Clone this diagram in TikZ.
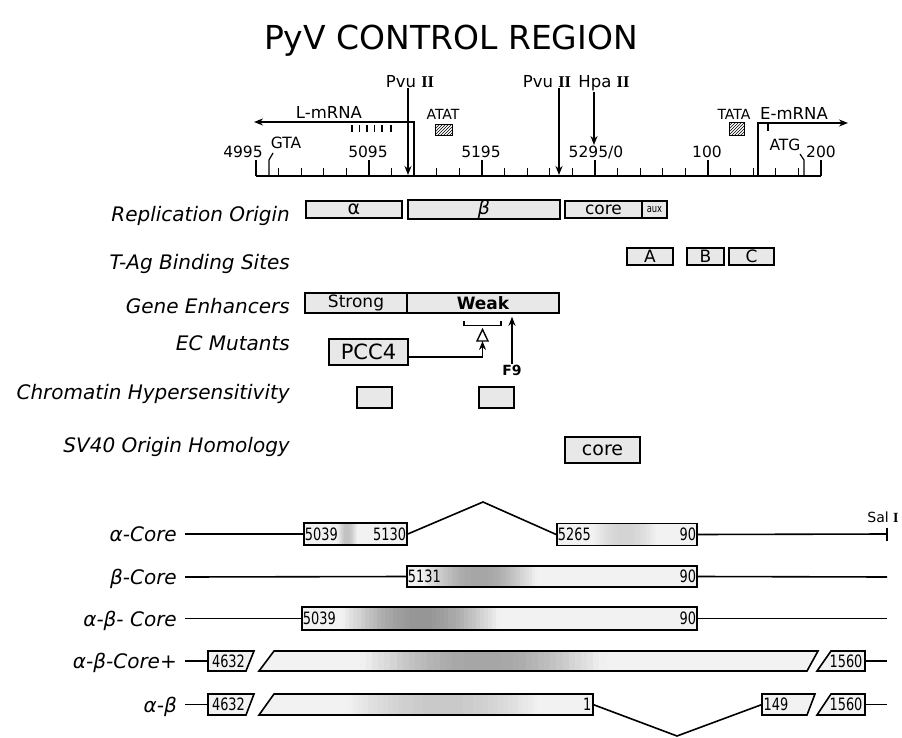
\documentclass[tikz,border=0pt]{standalone}
\usepackage{fontspec}
\setmainfont{DejaVu Sans}
\setsansfont{DejaVu Sans}
\newfontfamily\condfont{DejaVu Sans}[FakeStretch=0.76]
\newfontfamily\romfont{Liberation Serif}
\usetikzlibrary{arrows.meta,patterns,calc}
\newcommand\RII{{\romfont\bfseries II}}
\newcommand\RI{{\romfont\bfseries I}}
\begin{document}
\begin{tikzpicture}[x=1pt,y=-1pt,
  ln/.style={line width=1.6pt},
  ruler/.style={line width=1.5pt},
  tk/.style={line width=1.2pt},
  arr/.style={line width=1.5pt,-{Stealth[length=9pt,width=7pt]}},
  lab/.style={font=\fontsize{20}{22}\selectfont\itshape, anchor=base east, inner sep=0pt},
  num/.style={font=\fontsize{15.5}{16}\selectfont, anchor=base, inner sep=0pt},
  rlab/.style={font=\fontsize{16.5}{18}\selectfont, anchor=base, inner sep=0pt},
  feat/.style={draw, line width=1.6pt, fill=black!9, inner sep=0pt, font=\fontsize{17}{18}\selectfont},
  cbox/.style={draw, line width=1.6pt, fill=black!5, inner sep=0pt},
  cnum/.style={font=\condfont\fontsize{17}{18}\selectfont, inner sep=1.5pt},
  hatch/.style={draw, line width=1pt, pattern=north east lines, inner sep=0pt},
  spot/.style n args={3}{path picture={
    \foreach \i in {0,...,39}{
      \pgfmathsetmacro\sa{#1+(#2-#1)*\i/40}
      \pgfmathsetmacro\sb{#1+(#2-#1)*(\i+1.2)/40}
      \pgfmathtruncatemacro\sc{5+(#3-5)*sin(180*(\i+0.5)/40)}
      \fill[black!\sc] ($(path picture bounding box.south west)!\sa!(path picture bounding box.south east)$) rectangle
        ($(path picture bounding box.north west)!\sb!(path picture bounding box.north east)$);
    }}}
]
\useasboundingbox (0,0) rectangle (902,738);

% title
\node[font=\fontsize{33}{36}\selectfont, inner sep=0pt] (title) at (451,41) {PyV CONTROL REGION};

% ruler
\coordinate (r0) at (256,176);
\coordinate (r1) at (821,176);
\draw[ruler] (r0) -- (r1);
\foreach \k in {0,...,25}{
  \pgfmathsetmacro\xx{256+22.6*\k}
  \pgfmathtruncatemacro\m{mod(\k,5)}
  \ifnum\m=0 \draw[tk] (\xx,176) -- (\xx,160); \else \draw[tk] (\xx,176) -- (\xx,168); \fi
}
\node[num] (n4995) at (243,158) {4995};
\node[num] (n5095) at (368,158) {5095};
\node[num] (n5195) at (481,158) {5195};
\node[num] (n5295) at (596,158) {5295/0};
\node[num] (n100) at (707,158) {100};
\node[num] (n200) at (821,158) {200};

% GTA / ATG
\coordinate (gta) at (269,176);
\draw[tk] (gta) -- (269,160) -- (273,153);
\node[num] (GTA) at (286,149) {GTA};
\coordinate (atg) at (804,176);
\draw[tk] (atg) -- (804,160) -- (800,154);
\node[num] (ATG) at (785,151) {ATG};

% L-mRNA
\coordinate (Ls) at (414,176);
\coordinate (Lc) at (414,122);
\coordinate (Le) at (254,122);
\draw[arr] (Ls) -- (Lc) -- (Le);
\node[rlab] (Lm) at (329,119) {L-mRNA};
\foreach \x in {352,359.5,367,374.5,382,391} \draw[tk] (\x,125) -- (\x,132);

% restriction sites
\node[rlab] (pvu1) at (410,88) {Pvu \RII};
\coordinate (pvu1t) at (408,175);
\draw[arr] (pvu1.south -| pvu1t) -- (pvu1t);
\node[rlab] (pvu2) at (547,88) {Pvu \RII};
\coordinate (pvu2t) at (559,175);
\draw[arr] (pvu2.south -| pvu2t) -- (pvu2t);
\node[rlab] (hpa) at (604,88) {Hpa \RII};
\coordinate (hpat) at (594,145);
\draw[arr] (hpa.south -| hpat) -- (hpat);

% ATAT / TATA
\node[font=\fontsize{14}{14}\selectfont, anchor=base, inner sep=0pt] (atat) at (443,120) {ATAT};
\node[hatch, minimum width=17pt, minimum height=11pt] (atatbox) at (443.5,130.5) {};
\node[font=\fontsize{14}{14}\selectfont, anchor=base, inner sep=0pt] (tata) at (734,120) {TATA};
\node[hatch, minimum width=15pt, minimum height=13pt] (tatabox) at (736.5,129.5) {};

% E-mRNA
\coordinate (Es) at (758,176);
\coordinate (Ec) at (758,123);
\coordinate (Ee) at (848,123);
\draw[arr] (Es) -- (Ec) -- (Ee);
\draw[tk] (768,123) -- (768,131);
\node[rlab] (Em) at (794,120) {E-mRNA};

% feature rows
\node[lab] (lrep) at (290,222) {Replication Origin};
\node[feat, minimum width=96pt, minimum height=17pt, font=\fontsize{19}{19}\selectfont] (ra) at (354,209.5) {α};
\node[feat, minimum width=152pt, minimum height=17pt, font=\fontsize{19}{19}\selectfont\itshape] (rb) at (484,209.5) {β};
\node[feat, minimum width=77pt, minimum height=17pt] (rc) at (603.5,209.5) {core};
\node[feat, minimum width=25pt, minimum height=17pt, font=\condfont\fontsize{11}{11}\selectfont] (rx) at (654.5,209.5) {aux};

\node[lab] (ltag) at (290,269) {T-Ag Binding Sites};
\node[feat, minimum width=46pt, minimum height=17pt] (ta) at (650,256.5) {A};
\node[feat, minimum width=37pt, minimum height=17pt] (tb) at (705.5,256.5) {B};
\node[feat, minimum width=45pt, minimum height=17pt] (tc) at (751.5,256.5) {C};

\node[lab] (lgen) at (290,313) {Gene Enhancers};
\node[feat, minimum width=102pt, minimum height=20pt] (gs) at (356,303) {Strong};
\node[feat, minimum width=152pt, minimum height=20pt] (gw) at (483,303) {\bfseries Weak\hspace{14pt}};

\node[lab] (lec) at (290,350) {EC Mutants};
\node[feat, minimum width=79pt, minimum height=26pt, font=\fontsize{21}{24}\selectfont] (pcc) at (368.5,352) {PCC4};
\draw[ln] (464,321) -- (464,325.5) -- (501,325.5) -- (501,321);
\coordinate (tribase) at (482.5,341);
\draw[line width=1.4pt] (477,341) -- (488,341) -- (482.5,329.5) -- cycle;
\draw[arr] ([yshift=-5pt]pcc.east) -| (tribase);
\node[font=\fontsize{14}{16}\selectfont\bfseries, inner sep=1pt] (f9) at (512,370) {F9};
\draw[arr, shorten >=3pt] (f9.north) -- (f9.north |- gw.south);

\node[lab] (lchr) at (290,399) {Chromatin Hypersensitivity};
\node[feat, minimum width=35pt, minimum height=21pt] (ch1) at (374.5,397.5) {};
\node[feat, minimum width=35pt, minimum height=21pt] (ch2) at (496.5,397.5) {};

\node[lab] (lsv) at (290,452) {SV40 Origin Homology};
\node[feat, minimum width=75pt, minimum height=26pt, font=\fontsize{19}{20}\selectfont] (svc) at (602.5,450) {core};

% ---- constructs ----
% alpha-Core
\node[lab] (l1) at (177,541) {α-Core};
\coordinate (s1) at (185,534);
\node[cbox, minimum width=103pt, minimum height=22pt, spot={0.32}{0.52}{25}] (a1) at (355.5,534) {};
\node[cnum, anchor=west] (a1l) at (a1.west) {5039};
\node[cnum, anchor=east] (a1r) at (a1.east) {5130};
\coordinate (apex1) at (483,502);
\node[cbox, minimum width=140pt, minimum height=22pt, spot={0.25}{0.72}{18}] (a2) at (627,534.5) {};
\node[cnum, anchor=west] (a2l) at (a2.west) {5265};
\node[cnum, anchor=east] (a2r) at (a2.east) {90};
\coordinate (sal) at (887,534);
\draw[ln] (s1) -- (a1.west);
\draw[ln] (a1.east) -- (apex1) -- (a2.west);
\draw[ln] (a2.east) -- (sal);
\draw[ln] (887,527.5) -- (887,540.5);
\node[font=\fontsize{14}{16}\selectfont, inner sep=0pt] (salt) at (883,517) {Sal \RI};

% beta-Core
\node[lab] (l2) at (177,584) {β-Core};
\coordinate (s2) at (185,577);
\coordinate (e2) at (887,577);
\node[cbox, minimum width=290pt, minimum height=21pt, spot={0.05}{0.45}{36}] (b) at (552,576.5) {};
\node[cnum, anchor=west] (bl) at (b.west) {5131};
\node[cnum, anchor=east] (br) at (b.east) {90};
\draw[ln] (s2) -- (b.west);
\draw[ln] (b.east) -- (e2);

% alpha-beta-Core
\node[lab] (l3) at (177,626) {α-β- Core};
\coordinate (s3) at (185,618.5);
\coordinate (e3) at (887,618.5);
\node[cbox, minimum width=395pt, minimum height=23pt, spot={0.1}{0.5}{42}] (c) at (499.5,618.5) {};
\node[cnum, anchor=west] (cl) at (c.west) {5039};
\node[cnum, anchor=east] (cr) at (c.east) {90};
\draw[ln] (s3) -- (c.west);
\draw[ln] (c.east) -- (e3);

% alpha-beta-Core+
\node[lab] (l4) at (177,668) {α-β-Core+};
\coordinate (s4) at (185,661);
\coordinate (d1w) at (208,661);
\draw[cbox] (208,651) -- (254,651) -- (246,671) -- (208,671) -- cycle;
\node[cnum] (d1t) at (228.5,661) {4632};
\draw[cbox, spot={0.18}{0.62}{36}] (274,651) -- (818,651) -- (807,671) -- (259,671) -- cycle;
\draw[cbox] (831,651) -- (865,651) -- (865,671) -- (817,671) -- cycle;
\node[cnum] (d3t) at (846,661) {1560};
\coordinate (d3e) at (865,661);
\coordinate (e4) at (887,661);
\draw[ln] (s4) -- (d1w);
\draw[ln] (d3e) -- (e4);

% alpha-beta
\node[lab] (l5) at (177,712) {α-β};
\coordinate (s5) at (185,704.5);
\coordinate (f1w) at (208,704.5);
\draw[cbox] (208,694) -- (254,694) -- (246,715) -- (208,715) -- cycle;
\node[cnum] (f1t) at (228.5,704.5) {4632};
\draw[cbox, spot={0.25}{0.85}{22}] (274,694) -- (593,694) -- (593,715) -- (259,715) -- cycle;
\node[cnum, anchor=east] (f2t) at (593,704.5) {1};
\coordinate (f2e) at (593,704.5);
\coordinate (apex5) at (677,736);
\coordinate (g1w) at (762,704.5);
\draw[cbox] (762,694) -- (815,694) -- (807,715) -- (762,715) -- cycle;
\node[cnum, anchor=west] (g1t) at (g1w) {149};
\draw[cbox] (831,694) -- (865,694) -- (865,715) -- (817,715) -- cycle;
\node[cnum] (g2t) at (846,704.5) {1560};
\coordinate (g2e) at (865,704.5);
\coordinate (e5) at (887,704.5);
\draw[ln] (s5) -- (f1w);
\draw[ln] (f2e) -- (apex5) -- (g1w);
\draw[ln] (g2e) -- (e5);
\end{tikzpicture}
\end{document}
